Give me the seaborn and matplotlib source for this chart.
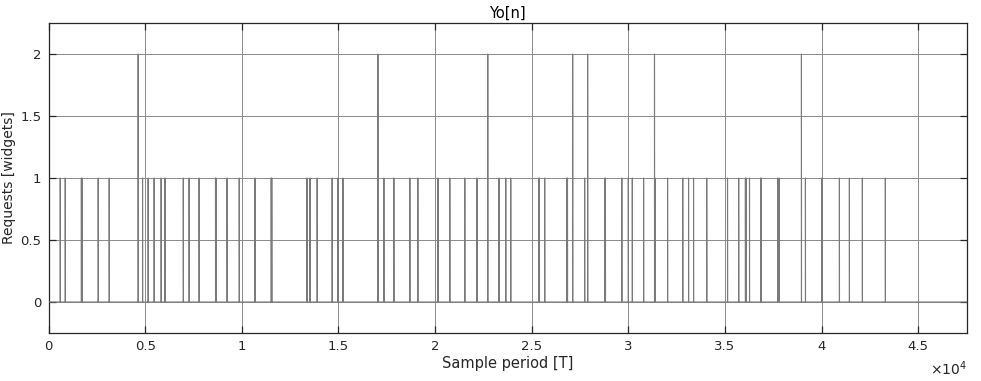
import numpy as np
import pandas as pd
import matplotlib
matplotlib.use("Agg")
import matplotlib.pyplot as plt
import seaborn as sns

# ---- data ----
n_samples = 47520
event_index = [607, 866, 1700, 1730, 2571, 3140, 4638, 4866, 5155, 5465, 5827, 6028,
               6974, 7274, 7791, 8640, 8670, 9238, 9868, 10685, 11522, 11552,
               13372, 13527, 13899, 14675, 14974, 15233, 17042, 17352, 17868, 18695,
               19109, 20153, 20762, 21538, 22168, 22726, 23305, 23657, 23915,
               25368, 25398, 25672, 26820, 26850, 27119, 27739, 27894, 28784, 28814,
               29662, 29998, 30204, 30789, 31352, 31382, 32029, 32814, 33114, 33372,
               34055, 35130, 35708, 36055, 36085, 36267, 36841, 36871, 37734, 37812,
               38954, 39161, 39998, 40028, 40918, 41435, 42106, 43295]
event_value = [1, 1, 1, 1, 1, 1, 2, 1, 1, 1, 1, 1,
               1, 1, 1, 1, 1, 1, 1, 1, 1, 1,
               1, 1, 1, 1, 1, 1, 2, 1, 1, 1,
               1, 1, 1, 1, 1, 2, 1, 1, 1,
               1, 1, 1, 1, 1, 2, 1, 2, 1, 1,
               1, 1, 1, 1, 2, 1, 1, 1, 1, 1,
               1, 1, 1, 1, 1, 1, 1, 1, 1, 1,
               2, 1, 1, 1, 1, 1, 1, 1]
x_ticks = [0, 5000, 10000, 15000, 20000, 25000, 30000, 35000, 40000, 45000]
x_tick_labels = ["0", "0.5", "1", "1.5", "2", "2.5", "3", "3.5", "4", "4.5"]
y_ticks = [0, 0.5, 1, 1.5, 2]
y_tick_labels = ["0", "0.5", "1", "1.5", "2"]

signal = np.zeros(n_samples)
signal[np.array(event_index)] = np.array(event_value, dtype=float)
df = pd.DataFrame({"n": np.arange(n_samples), "y": signal})

sns.set_theme(style="white")
plt.rcParams["font.family"] = ["DejaVu Sans"]

fig = plt.figure(figsize=(9.81, 3.81), dpi=100)
ax = fig.add_axes([48.5 / 981, 1 - 333 / 381, (967 - 48.5) / 981, (333 - 23) / 381])

sns.lineplot(data=df, x="n", y="y", ax=ax, estimator=None, drawstyle="steps-post",
             color="#7a7a7a", linewidth=0.8, zorder=3)

ax.set_xlim(0, n_samples)
ax.set_ylim(-0.25, 2.25)
ax.set_xticks(x_ticks)
ax.set_xticklabels(x_tick_labels)
ax.set_yticks(y_ticks)
ax.set_yticklabels(y_tick_labels)
ax.grid(True, color="#8a8a8a", linewidth=0.7, zorder=0)
ax.set_axisbelow(True)
for s in ax.spines.values():
    s.set_color("#262626")
    s.set_linewidth(0.9)
    s.set_visible(True)
ax.tick_params(axis="both", direction="in", length=5, width=0.9, colors="#262626",
               labelsize=9.5, top=True, right=True, bottom=True, left=True, pad=5)
for lab in ax.get_xticklabels() + ax.get_yticklabels():
    lab.set_color("#262626")

ax.set_xlabel("Sample period [T]", fontsize=10.5, color="#262626", labelpad=2)
ax.set_ylabel("Requests [widgets]", fontsize=10, color="#262626", labelpad=3)
ax.set_title("Yo[n]", fontsize=10.5, color="#000000", pad=4)
ax.text(1.0, -0.085, r"$\times 10^4$", transform=ax.transAxes, ha="right", va="top",
        fontsize=10, color="#262626")

fig.savefig("out.png", dpi=100, facecolor="white")
